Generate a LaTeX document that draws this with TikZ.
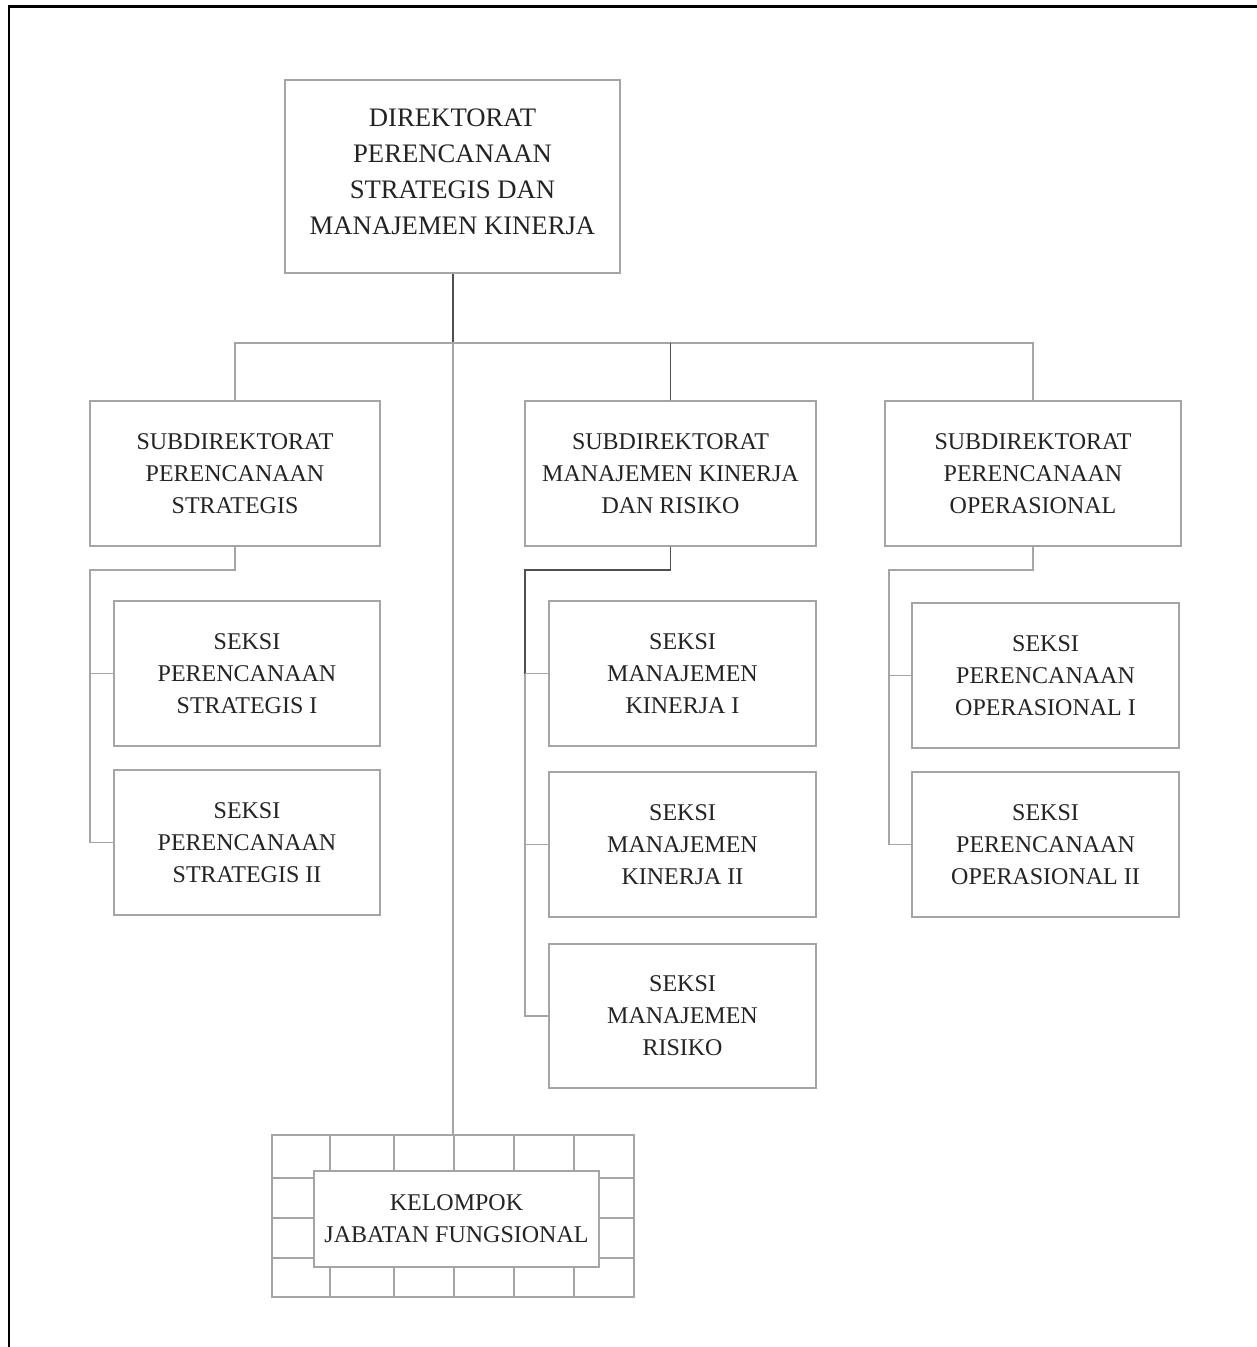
\documentclass[tikz,border=0pt]{standalone}
\usepackage{fontspec}
\setmainfont{Liberation Serif}
\definecolor{linec}{RGB}{165,165,165}
\definecolor{darkc}{RGB}{80,80,80}
\definecolor{txtc}{RGB}{35,35,35}
\begin{document}
\begin{tikzpicture}[x=1pt,y=-1pt,
  box/.style={draw=linec,line width=1.4pt,rectangle,inner sep=0pt,align=center,text=txtc,
    font=\fontsize{24}{32}\selectfont},
  subbox/.style={box,minimum width=290pt,minimum height=145pt},
  seksi/.style={box,minimum width=266pt,minimum height=145pt},
  conn/.style={draw=linec,line width=1.4pt},
  dconn/.style={draw=darkc,line width=1.6pt},
  frame/.style={draw=black,line width=2.2pt}]
\useasboundingbox (0,0) rectangle (1257,1347);
% outer frame (left and top)
\draw[frame] (9,1347) -- (9,6.5) -- (1257,6.5);
% top
\node[box,minimum width=335pt,minimum height=193pt,text depth=10pt,font=\fontsize{26.7}{36}\selectfont] (top) at (452.5,176.5)
  {DIREKTORAT\\PERENCANAAN\\STRATEGIS DAN\\MANAJEMEN KINERJA};
% subdirektorat
\node[subbox] (s1) at (235,473.5) {SUBDIREKTORAT\\PERENCANAAN\\STRATEGIS};
\node[subbox,minimum width=291pt] (s2) at (670.5,473.5) {SUBDIREKTORAT\\MANAJEMEN KINERJA\\DAN RISIKO};
\node[subbox,minimum width=296pt] (s3) at (1033,473.5) {SUBDIREKTORAT\\PERENCANAAN\\OPERASIONAL};
% seksi
\node[seksi] (s1a) at (247,673.5) {SEKSI\\PERENCANAAN\\STRATEGIS I};
\node[seksi] (s1b) at (247,842.5) {SEKSI\\PERENCANAAN\\STRATEGIS II};
\node[seksi,minimum width=267pt] (s2a) at (682.5,673.5) {SEKSI\\MANAJEMEN\\KINERJA I};
\node[seksi,minimum width=267pt] (s2b) at (682.5,844.5) {SEKSI\\MANAJEMEN\\KINERJA II};
\node[seksi,minimum width=267pt,minimum height=144pt] (s2c) at (682.5,1016) {SEKSI\\MANAJEMEN\\RISIKO};
\node[seksi,minimum width=267pt] (s3a) at (1045.5,675.5) {SEKSI\\PERENCANAAN\\OPERASIONAL I};
\node[seksi,minimum width=267pt] (s3b) at (1045.5,844.5) {SEKSI\\PERENCANAAN\\OPERASIONAL II};
% kelompok grid
\node[draw=linec,line width=1.4pt,rectangle,inner sep=0pt,minimum width=362pt,minimum height=162pt] (grid) at (453,1216) {};
\foreach \x in {330,394,454,514,574}{
  \draw[conn] (\x,1135) -- (\x,1171);
  \draw[conn] (\x,1267) -- (\x,1297);
}
\foreach \y in {1178,1218,1258}{
  \draw[conn] (272,\y) -- (314,\y);
  \draw[conn] (599,\y) -- (634,\y);
}
\node[box,fill=white,minimum width=285pt,minimum height=96pt] (kjf) at (456.5,1219) {KELOMPOK\\JABATAN FUNGSIONAL};
% main connectors
\coordinate (bus) at (453,343);
\draw[dconn] (top.south -| bus) -- (bus);
\draw[conn] (bus) -- (grid.north -| bus);
\draw[conn] (s1.north) -- (s1.north |- bus) -- (s3.north |- bus) -- (s3.north);
\draw[dconn] (s2.north) -- (s2.north |- bus);
% left branch
\coordinate (b1) at (90,570);
\draw[conn] (s1.south) |- (b1) |- (s1b.west);
\draw[conn] (s1a.west) -- (s1a.west -| b1);
% middle branch
\coordinate (b2) at (525,570);
\draw[dconn] (s2.south) |- (b2) -- (b2 |- s2a.west);
\draw[conn] (b2 |- s2a.west) |- (s2c.west);
\draw[conn] (s2a.west) -- (s2a.west -| b2);
\draw[conn] (s2b.west) -- (s2b.west -| b2);
% right branch
\coordinate (b3) at (889,570);
\draw[conn] (s3.south) |- (b3) |- (s3b.west);
\draw[conn] (s3a.west) -- (s3a.west -| b3);
\end{tikzpicture}
\end{document}
